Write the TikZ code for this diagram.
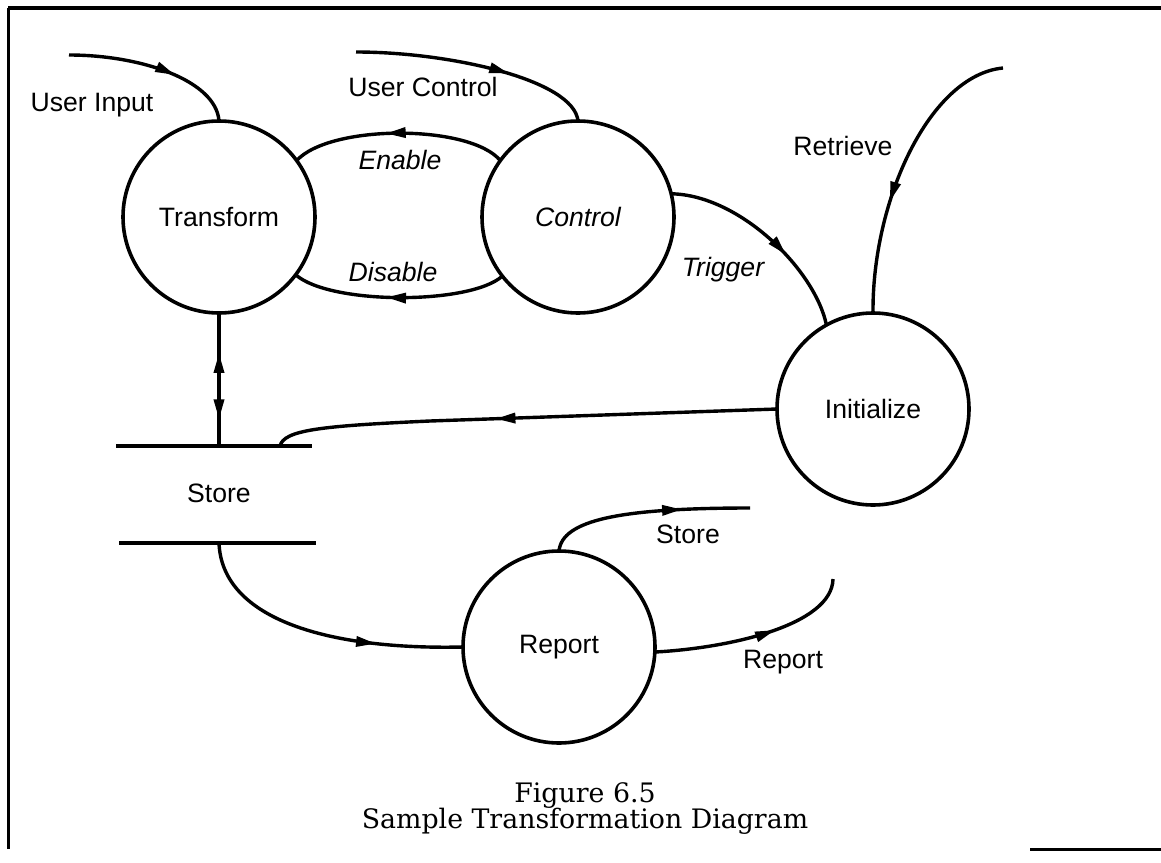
\documentclass[tikz,border=0pt]{standalone}
\usepackage{fontspec}
\setmainfont{Liberation Sans}
\newfontfamily\capfont{DejaVu Serif}
\usepackage{tikz}
\usetikzlibrary{arrows.meta, decorations.markings}

\begin{document}
\begin{tikzpicture}[x=0.5pt, y=-0.5pt,
  proc/.style={circle, draw, line width=1.8pt, minimum size=96pt, inner sep=0pt, outer sep=0pt, font=\fontsize{13.3}{16}\selectfont},
  lab/.style={font=\fontsize{13.3}{16}\selectfont},
  ilab/.style={font=\fontsize{13.3}{16}\selectfont\itshape},
  captext/.style={font=\capfont\fontsize{13.4}{16}\selectfont},
  flow/.style={line width=1.7pt},
  tipat/.style={postaction={decorate}, decoration={markings,
    mark=at position #1 with {\arrow{Triangle[length=10pt,width=5pt]}}}}]
  \useasboundingbox (0,0) rectangle (1161,862);

  % 边框 (Frame)
  \draw[line width=2pt] (1161,8) -- (8,8);
  \draw[line width=1.5pt] (8,8) -- (8,849);
  \draw[line width=1.5pt] (1030,849) -- (1161,849);

  % 处理 (Processes)
  \node[proc] (transform) at (219,217) {Transform};
  \node[proc, font=\fontsize{13.3}{16}\selectfont\itshape] (control) at (578,217) {Control};
  \node[proc] (initialize) at (873,409) {Initialize};
  \node[proc] (report) at (559,647) {Report};

  % 存储 (Store)
  \node[lab] (store) at (219,493) {Store};
  \coordinate (stTopL) at (116,446);
  \coordinate (stTopR) at (312,446);
  \coordinate (stBotL) at (119,543);
  \coordinate (stBotR) at (316,543);
  \coordinate (stTop) at (219,446);
  \coordinate (stIn) at (280,446);
  \coordinate (stOut) at (219,543);
  \draw[line width=2pt] (stTopL) -- (stTopR);
  \draw[line width=2pt] (stBotL) -- (stBotR);

  % 外部端点 (Free ends)
  \coordinate (uiStart) at (69,55);
  \coordinate (ucStart) at (356,52);
  \coordinate (rtStart) at (1003,68);
  \coordinate (soEnd) at (750,508);
  \coordinate (roEnd) at (833,579);

  % 标签 (Labels)
  \node[lab] (lbInput) at (92,105) {User Input};
  \node[lab] (lbUctl) at (423,87) {User Control};
  \node[ilab] (lbEnable) at (400,160) {Enable};
  \node[ilab] (lbDisable) at (393,272) {Disable};
  \node[ilab] (lbTrigger) at (723,270) {Trigger};
  \node[lab] (lbRetrieve) at (843,146) {Retrieve};
  \node[lab] (lbStore) at (688,534) {Store};
  \node[lab] (lbReport) at (783,662) {Report};

  % 连线 (Flows)
  \draw[flow, tipat=0.62] (uiStart) .. controls (140,55) and (216,80) .. (transform.north);
  \draw[flow, tipat=0.64] (ucStart) .. controls (450,52) and (574,80) .. (control.north);
  \draw[flow, tipat=0.56] (control.144) .. controls (470,124) and (330,124) .. (transform.36);
  \draw[flow, tipat=0.56] (control.218) .. controls (470,305) and (330,305) .. (transform.-37);
  \draw[flow, tipat=0.62] (control.14) .. controls (740,195) and (815,270) .. (initialize.119);
  \draw[flow, tipat=0.62] (rtStart) .. controls (930,75) and (872,200) .. (initialize.north);
  \draw[flow, tipat=0.56] (initialize.west) -- (430,421) .. controls (320,426) and (284,430) .. (stIn);
  \draw[flow, postaction={decorate}, decoration={markings,
    mark=at position 0.3 with {\arrowreversed{Triangle[length=10pt,width=5pt]}},
    mark=at position 0.8 with {\arrow{Triangle[length=10pt,width=5pt]}}}]
    (transform.south) -- (stTop);
  \draw[flow, tipat=0.7] (stOut) .. controls (222,620) and (330,650) .. (report.west);
  \draw[flow, tipat=0.67] (report.north) .. controls (562,520) and (620,508) .. (soEnd);
  \draw[flow, tipat=0.6] (report.-3) .. controls (730,648) and (832,625) .. (roEnd);

  % 图题 (Caption)
  \node[captext] (capNum) at (585,796) {Figure 6.5};
  \node[captext] (capTitle) at (585,821) {Sample Transformation Diagram};

\end{tikzpicture}
\end{document}
